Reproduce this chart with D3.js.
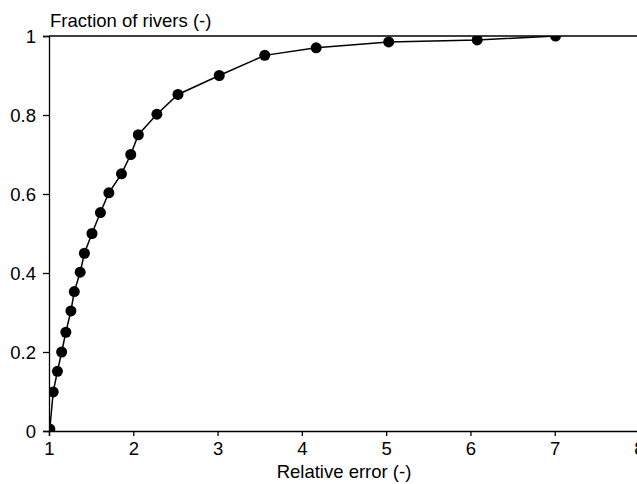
<!DOCTYPE html>
<html>
<head>
<meta charset="utf-8">
<script src="https://cdn.jsdelivr.net/npm/d3@7"></script>
<style>
  body { margin: 0; background: #fff; }
  svg { display: block; }
</style>
</head>
<body>
<svg></svg>
<script>
// data
const relError = [1.01, 1.05, 1.10, 1.15, 1.20, 1.26, 1.30, 1.37, 1.42, 1.51, 1.61, 1.71,
                  1.86, 1.97, 2.06, 2.28, 2.53, 3.02, 3.56, 4.17, 5.03, 6.08, 7.01];
const fraction = [0.005, 0.099, 0.151, 0.2, 0.25, 0.304, 0.353, 0.402, 0.45, 0.5, 0.553, 0.603,
                  0.651, 0.7, 0.75, 0.802, 0.852, 0.9, 0.951, 0.97, 0.985, 0.99, 1.0];
const xTicks = [1, 2, 3, 4, 5, 6, 7, 8];
const yTicks = [0, 0.2, 0.4, 0.6, 0.8, 1];

const points = relError.map((x, i) => ({ x, y: fraction[i] }));

const width = 637;
const height = 484;
const margin = { top: 36, right: -2, bottom: 53, left: 49 };
const font = "Liberation Sans, Arial, Helvetica, sans-serif";

const svg = d3.select("svg")
    .attr("width", width)
    .attr("height", height)
    .attr("viewBox", [0, 0, width, height]);

const x = d3.scaleLinear()
    .domain([1, 8])
    .range([margin.left, width - margin.right]);

const y = d3.scaleLinear()
    .domain([0, 1])
    .range([height - margin.bottom, margin.top]);

// clip the curve to the plot box (last dot is cut by the top frame)
svg.append("defs").append("clipPath")
    .attr("id", "plot")
  .append("rect")
    .attr("x", x(1))
    .attr("y", y(1))
    .attr("width", x(8) - x(1))
    .attr("height", y(0) - y(1));

const plot = svg.append("g").attr("clip-path", "url(#plot)");

plot.append("path")
    .datum(points)
    .attr("fill", "none")
    .attr("stroke", "#000")
    .attr("stroke-width", 1.5)
    .attr("d", d3.line().x(d => x(d.x)).y(d => y(d.y)));

plot.append("g")
  .selectAll("circle")
  .data(points)
  .join("circle")
    .attr("cx", d => x(d.x))
    .attr("cy", d => y(d.y))
    .attr("r", 5.5)
    .attr("fill", "#000");

// axes
const xAxis = svg.append("g")
    .attr("transform", `translate(0,${y(0)})`)
    .call(d3.axisBottom(x).tickValues(xTicks).tickFormat(d3.format("d")).tickSize(5).tickPadding(5));

const yAxis = svg.append("g")
    .attr("transform", `translate(${x(1)},0)`)
    .call(d3.axisLeft(y).tickValues(yTicks).tickFormat(d => d === 0 || d === 1 ? d : d.toFixed(1)).tickSize(6).tickPadding(7));

[xAxis, yAxis].forEach(g => {
  g.select(".domain").attr("stroke-width", 1.3);
  g.selectAll(".tick line").attr("stroke-width", 1.3);
  g.selectAll(".tick text")
      .attr("font-family", font)
      .attr("font-size", "18.5px")
      .attr("fill", "#000");
});
xAxis.selectAll(".tick text").attr("dy", "0.75em");
yAxis.selectAll(".tick text").attr("dy", "0.35em");

// top frame line
svg.append("line")
    .attr("x1", x(1))
    .attr("x2", width)
    .attr("y1", y(1))
    .attr("y2", y(1))
    .attr("stroke", "#000")
    .attr("stroke-width", 1.3);

// axis titles
svg.append("text")
    .attr("x", 50)
    .attr("y", 27)
    .attr("font-family", font)
    .attr("font-size", "18.5px")
    .text("Fraction of rivers (-)");

svg.append("text")
    .attr("x", (x(1) + x(8)) / 2)
    .attr("y", 478)
    .attr("text-anchor", "middle")
    .attr("font-family", font)
    .attr("font-size", "18.5px")
    .text("Relative error (-)");
</script>
</body>
</html>
